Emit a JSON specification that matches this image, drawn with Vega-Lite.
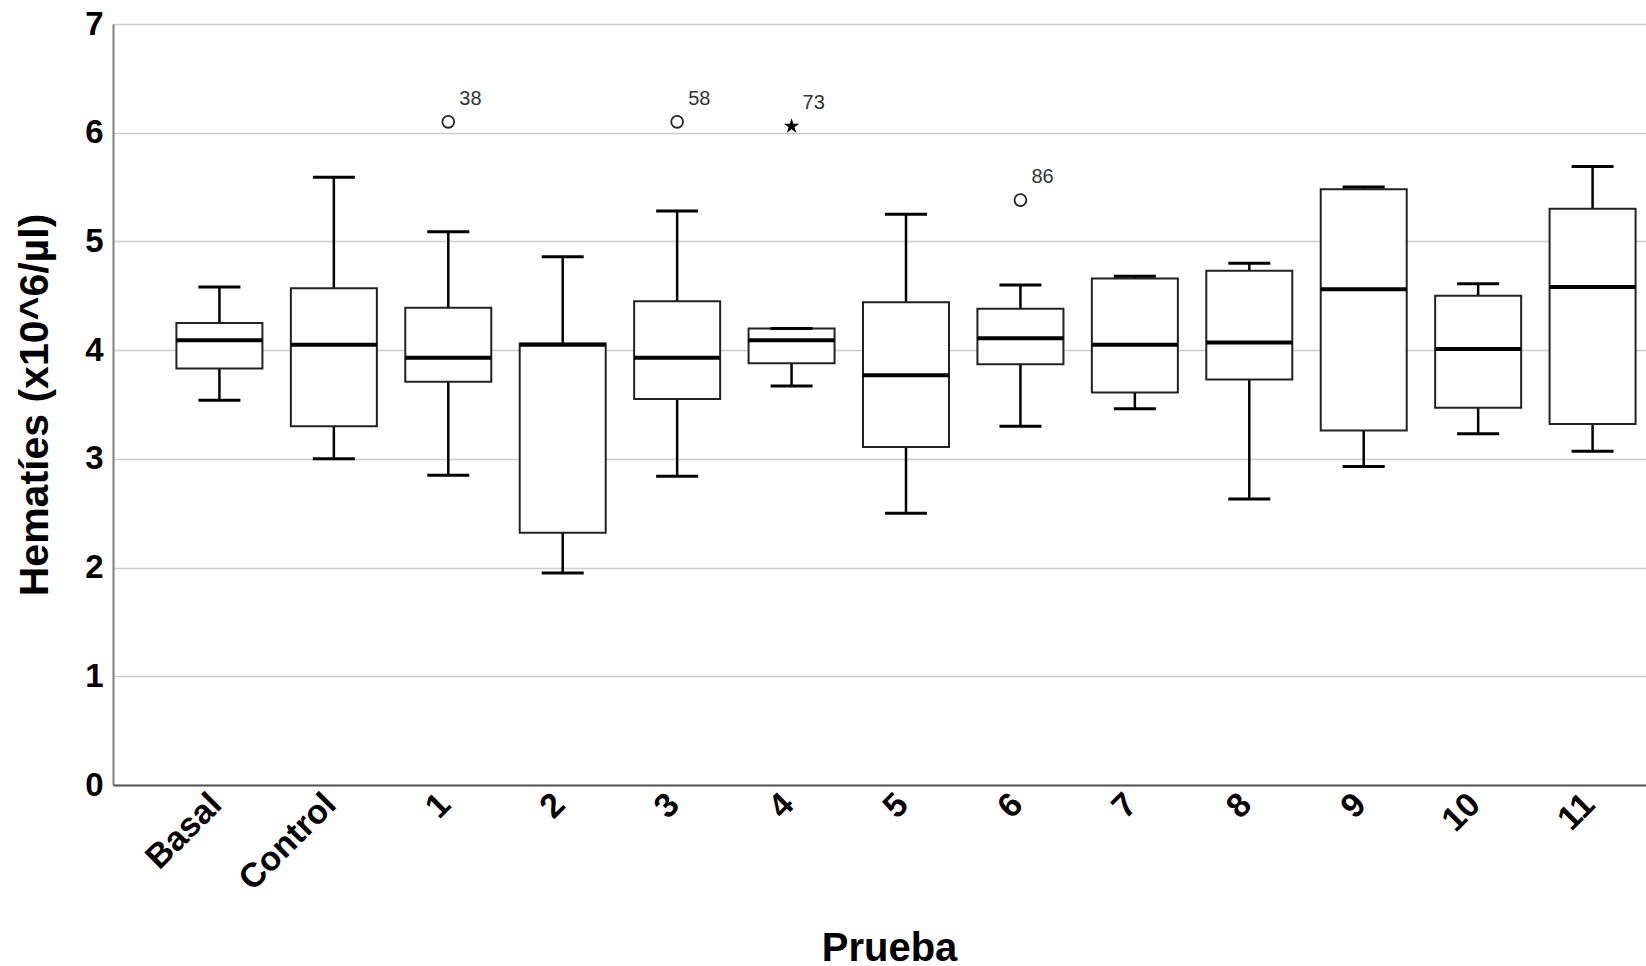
{
  "$schema": "https://vega.github.io/schema/vega-lite/v6.json",
  "width": 1534,
  "height": 761,
  "padding": {"left": 14, "top": 8, "right": 0, "bottom": 0},
  "background": "white",
  "config": {
    "view": {"stroke": null},
    "font": "Liberation Sans",
    "axis": {"labelFont": "Liberation Sans", "titleFont": "Liberation Sans"}
  },
  "datasets": {
    "boxes": [
      {"prueba": "Basal", "lo": 3.54, "q1": 3.83, "med": 4.09, "q3": 4.25, "hi": 4.58},
      {"prueba": "Control", "lo": 3.00, "q1": 3.30, "med": 4.05, "q3": 4.57, "hi": 5.59},
      {"prueba": "1", "lo": 2.85, "q1": 3.71, "med": 3.93, "q3": 4.39, "hi": 5.09},
      {"prueba": "2", "lo": 1.95, "q1": 2.32, "med": 4.05, "q3": 4.06, "hi": 4.86},
      {"prueba": "3", "lo": 2.84, "q1": 3.55, "med": 3.93, "q3": 4.45, "hi": 5.28},
      {"prueba": "4", "lo": 3.67, "q1": 3.88, "med": 4.09, "q3": 4.20, "hi": 4.20},
      {"prueba": "5", "lo": 2.50, "q1": 3.11, "med": 3.77, "q3": 4.44, "hi": 5.25},
      {"prueba": "6", "lo": 3.30, "q1": 3.87, "med": 4.11, "q3": 4.38, "hi": 4.60},
      {"prueba": "7", "lo": 3.46, "q1": 3.61, "med": 4.05, "q3": 4.66, "hi": 4.68},
      {"prueba": "8", "lo": 2.63, "q1": 3.73, "med": 4.07, "q3": 4.73, "hi": 4.80},
      {"prueba": "9", "lo": 2.93, "q1": 3.26, "med": 4.56, "q3": 5.48, "hi": 5.50},
      {"prueba": "10", "lo": 3.23, "q1": 3.47, "med": 4.01, "q3": 4.50, "hi": 4.61},
      {"prueba": "11", "lo": 3.07, "q1": 3.32, "med": 4.58, "q3": 5.30, "hi": 5.69}
    ],
    "outliers": [
      {"prueba": "1", "value": 6.10, "caso": "38", "tipo": "atipico"},
      {"prueba": "3", "value": 6.10, "caso": "58", "tipo": "atipico"},
      {"prueba": "4", "value": 6.06, "caso": "73", "tipo": "extremo"},
      {"prueba": "6", "value": 5.38, "caso": "86", "tipo": "atipico"}
    ]
  },
  "encoding": {
    "x": {
      "field": "prueba",
      "type": "nominal",
      "scale": {
        "domain": ["Basal", "Control", "1", "2", "3", "4", "5", "6", "7", "8", "9", "10", "11"],
        "range": [0, 1586],
        "paddingInner": 0,
        "paddingOuter": 0.43
      },
      "axis": {
        "title": "Prueba",
        "titleFontSize": 40,
        "titleFontWeight": "bold",
        "titleColor": "black",
        "titleX": 776,
        "titlePadding": 32,
        "labelAngle": -45,
        "labelFontSize": 34,
        "labelFontWeight": "bold",
        "labelColor": "black",
        "labelPadding": 2,
        "labelOffset": -15,
        "ticks": false,
        "domainColor": "#555555",
        "domainWidth": 2
      }
    }
  },
  "layer": [
    {
      "data": {"name": "boxes"},
      "mark": {"type": "rule", "color": "black", "strokeWidth": 2.5},
      "encoding": {
        "y": {
          "field": "lo",
          "type": "quantitative",
          "scale": {"domain": [0, 7], "nice": false},
          "axis": {
            "title": "Hematíes (x10^6/µl)",
            "titleFontSize": 41,
            "titleFontWeight": "bold",
            "titleColor": "black",
            "titlePadding": 28,
            "values": [0, 1, 2, 3, 4, 5, 6, 7],
            "format": "d",
            "labelFontSize": 33,
            "labelFontWeight": "bold",
            "labelColor": "black",
            "labelPadding": 10,
            "ticks": false,
            "grid": true,
            "gridColor": "#cccccc",
            "gridWidth": 1.5,
            "domainColor": "#808080",
            "domainWidth": 2
          }
        },
        "y2": {"field": "q1"}
      }
    },
    {
      "data": {"name": "boxes"},
      "mark": {"type": "rule", "color": "black", "strokeWidth": 2.5},
      "encoding": {
        "y": {"field": "q3", "type": "quantitative"},
        "y2": {"field": "hi"}
      }
    },
    {
      "data": {"name": "boxes"},
      "mark": {"type": "bar", "size": 86, "fill": "white", "stroke": "#222222", "strokeWidth": 2},
      "encoding": {
        "y": {"field": "q1", "type": "quantitative"},
        "y2": {"field": "q3"}
      }
    },
    {
      "data": {"name": "boxes"},
      "mark": {"type": "tick", "size": 86, "thickness": 4, "color": "black", "opacity": 1},
      "encoding": {
        "y": {"field": "med", "type": "quantitative"}
      }
    },
    {
      "data": {"name": "boxes"},
      "mark": {"type": "tick", "size": 42, "thickness": 3, "color": "black", "opacity": 1},
      "encoding": {
        "y": {"field": "lo", "type": "quantitative"}
      }
    },
    {
      "data": {"name": "boxes"},
      "mark": {"type": "tick", "size": 42, "thickness": 3, "color": "black", "opacity": 1},
      "encoding": {
        "y": {"field": "hi", "type": "quantitative"}
      }
    },
    {
      "data": {"name": "outliers"},
      "transform": [{"filter": "datum.tipo === 'atipico'"}],
      "mark": {"type": "point", "shape": "circle", "filled": false, "size": 140, "stroke": "#222222", "strokeWidth": 1.8, "opacity": 1},
      "encoding": {
        "y": {"field": "value", "type": "quantitative"}
      }
    },
    {
      "data": {"name": "outliers"},
      "transform": [{"filter": "datum.tipo === 'extremo'"}],
      "mark": {"type": "point", "shape": "M0,-1L0.2245,-0.309L0.951,-0.309L0.363,0.118L0.588,0.809L0,0.382L-0.588,0.809L-0.363,0.118L-0.951,-0.309L-0.2245,-0.309Z", "filled": true, "size": 260, "color": "black", "opacity": 1},
      "encoding": {
        "y": {"field": "value", "type": "quantitative"}
      }
    },
    {
      "data": {"name": "outliers"},
      "mark": {"type": "text", "align": "left", "baseline": "middle", "dx": 11, "dy": -23, "fontSize": 20, "color": "#333333", "font": "Liberation Sans"},
      "encoding": {
        "y": {"field": "value", "type": "quantitative"},
        "text": {"field": "caso"}
      }
    }
  ]
}
